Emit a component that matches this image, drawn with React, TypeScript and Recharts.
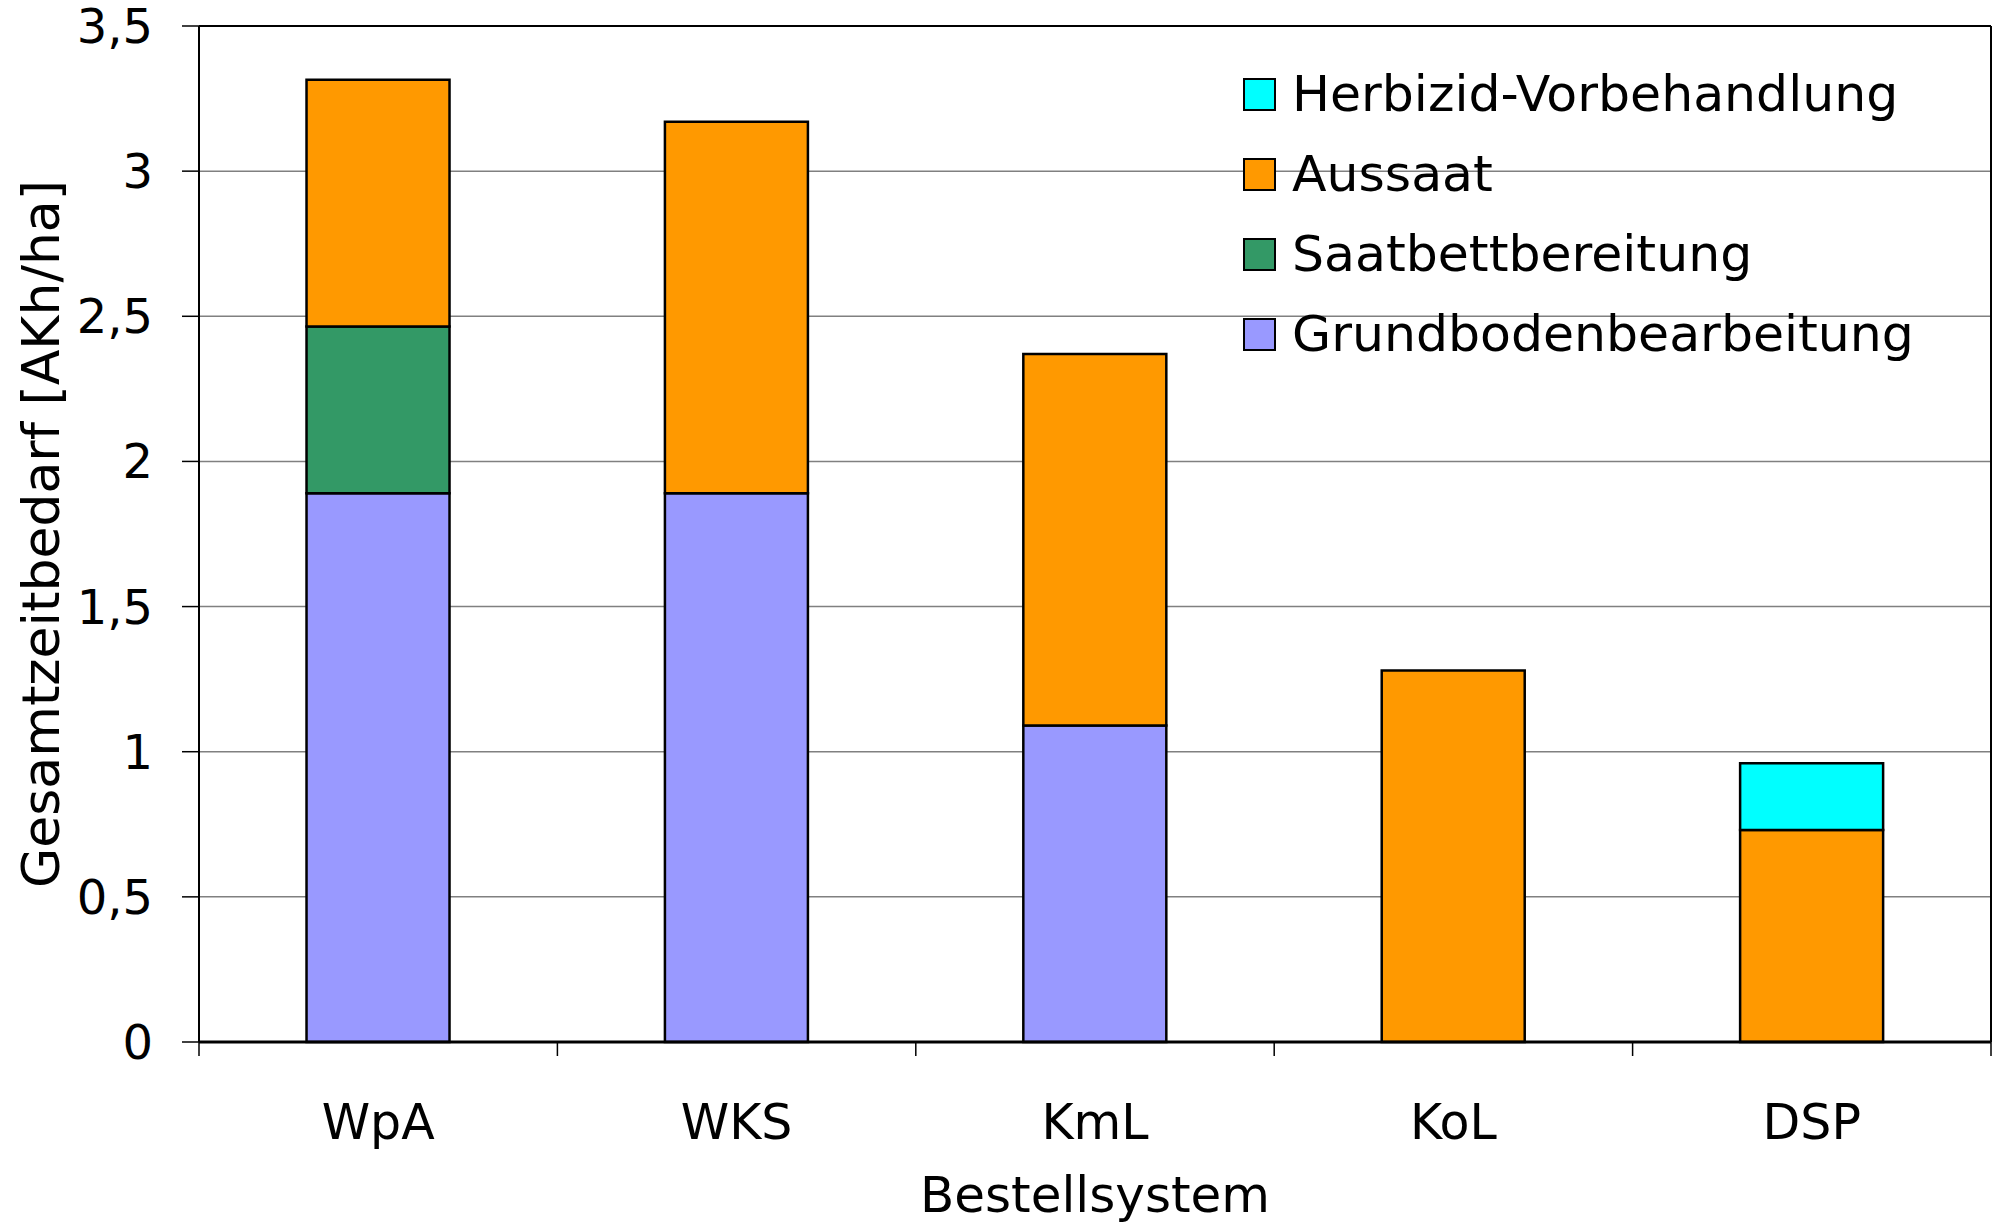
import { BarChart, Bar, XAxis, YAxis, CartesianGrid, ReferenceLine, Label } from 'recharts';

const categories = ['WpA', 'WKS', 'KmL', 'KoL', 'DSP'];
const grundboden = [1.89, 1.89, 1.09, 0, 0];
const saatbett = [0.575, 0, 0, 0, 0];
const aussaat = [0.85, 1.28, 1.28, 1.28, 0.73];
const herbizid = [0, 0, 0, 0, 0.23];
const yTicks = [0, 0.5, 1, 1.5, 2, 2.5, 3, 3.5];

const series = [
  { key: 'grund', name: 'Grundbodenbearbeitung', color: '#9999FF', values: grundboden },
  { key: 'saat', name: 'Saatbettbereitung', color: '#339966', values: saatbett },
  { key: 'aussaat', name: 'Aussaat', color: '#FF9900', values: aussaat },
  { key: 'herbizid', name: 'Herbizid-Vorbehandlung', color: '#00FFFF', values: herbizid },
];

const data = categories.map((name, i) => {
  const row: Record<string, string | number> = { name };
  series.forEach((s) => {
    row[s.key] = s.values[i];
  });
  return row;
});

const FONT = '"DejaVu Sans", Verdana, sans-serif';
const W = 1995;
const H = 1223;
const Y_AXIS_W = 199;
const RIGHT_W = 4;
const X_AXIS_H = 181;
const step = (W - Y_AXIS_W - RIGHT_W) / categories.length;

function CategoryTick(props: any) {
  const { x, y, payload, index } = props;
  const left = x - step / 2;
  const right = x + step / 2;
  return (
    <g>
      <line x1={left} x2={left} y1={y} y2={y + 14} stroke="#000" strokeWidth={1.5} />
      {index === categories.length - 1 && (
        <line x1={right} x2={right} y1={y} y2={y + 14} stroke="#000" strokeWidth={1.5} />
      )}
      <text
        x={x}
        y={y + 80}
        textAnchor="middle"
        dominantBaseline="central"
        fontFamily={FONT}
        fontSize={49}
        fill="#000"
      >
        {payload.value}
      </text>
    </g>
  );
}

export default function App() {
  const legendItems = [...series].reverse();
  return (
    <div style={{ position: 'relative', width: W, height: H, background: '#fff' }}>
      <style>{'body{margin:0;}'}</style>
      <BarChart
        width={W}
        height={H}
        data={data}
        margin={{ top: 26, right: 0, bottom: 0, left: 0 }}
        barCategoryGap="30%"
      >
        <CartesianGrid vertical={false} stroke="#808080" strokeWidth={1.5} />
        <XAxis
          dataKey="name"
          height={X_AXIS_H}
          interval={0}
          tickSize={0}
          tickMargin={0}
          tickLine={false}
          axisLine={{ stroke: '#000', strokeWidth: 3 }}
          tick={<CategoryTick />}
        >
          <Label
            content={(p: any) => {
              const vb = p.viewBox || { x: Y_AXIS_W, y: H - X_AXIS_H, width: W - Y_AXIS_W - RIGHT_W };
              return (
                <text
                  x={vb.x + vb.width / 2}
                  y={vb.y + 153}
                  textAnchor="middle"
                  dominantBaseline="central"
                  fontFamily={FONT}
                  fontSize={50}
                  fill="#000"
                >
                  Bestellsystem
                </text>
              );
            }}
          />
        </XAxis>
        <YAxis
          width={Y_AXIS_W}
          domain={[0, 3.5]}
          ticks={yTicks}
          interval={0}
          tickSize={17}
          tickMargin={29}
          tickLine={{ stroke: '#000', strokeWidth: 1.5 }}
          axisLine={{ stroke: '#000', strokeWidth: 2 }}
          tick={{ fill: '#000', fontSize: 48, fontFamily: FONT }}
          tickFormatter={(v: number) => String(v).replace('.', ',')}
        >
          <Label
            content={(p: any) => {
              const vb = p.viewBox || { x: 0, y: 26, height: H - X_AXIS_H - 26 };
              const cx = vb.x + 41;
              const cy = vb.y + vb.height / 2;
              return (
                <text
                  x={cx}
                  y={cy}
                  transform={`rotate(-90 ${cx} ${cy})`}
                  textAnchor="middle"
                  dominantBaseline="central"
                  fontFamily={FONT}
                  fontSize={52}
                  fill="#000"
                >
                  Gesamtzeitbedarf [AKh/ha]
                </text>
              );
            }}
          />
        </YAxis>
        <YAxis
          yAxisId="right"
          orientation="right"
          width={RIGHT_W}
          domain={[0, 3.5]}
          tick={false}
          tickLine={false}
          axisLine={{ stroke: '#000', strokeWidth: 2 }}
        />
        <ReferenceLine y={3.5} stroke="#000" strokeWidth={2} />
        {series.map((s) => (
          <Bar
            key={s.key}
            dataKey={s.key}
            name={s.name}
            stackId="a"
            fill={s.color}
            stroke="#000"
            strokeWidth={2.5}
            isAnimationActive={false}
          />
        ))}
      </BarChart>
      <div style={{ position: 'absolute', left: 1243, top: 54, fontFamily: FONT }}>
        {legendItems.map((s) => (
          <div key={s.key} style={{ display: 'flex', alignItems: 'center', height: 80 }}>
            <div
              style={{
                width: 29,
                height: 29,
                background: s.color,
                border: '2px solid #000',
                marginRight: 16,
              }}
            />
            <span style={{ fontSize: 50.5, lineHeight: '80px', color: '#000', whiteSpace: 'nowrap' }}>{s.name}</span>
          </div>
        ))}
      </div>
    </div>
  );
}
